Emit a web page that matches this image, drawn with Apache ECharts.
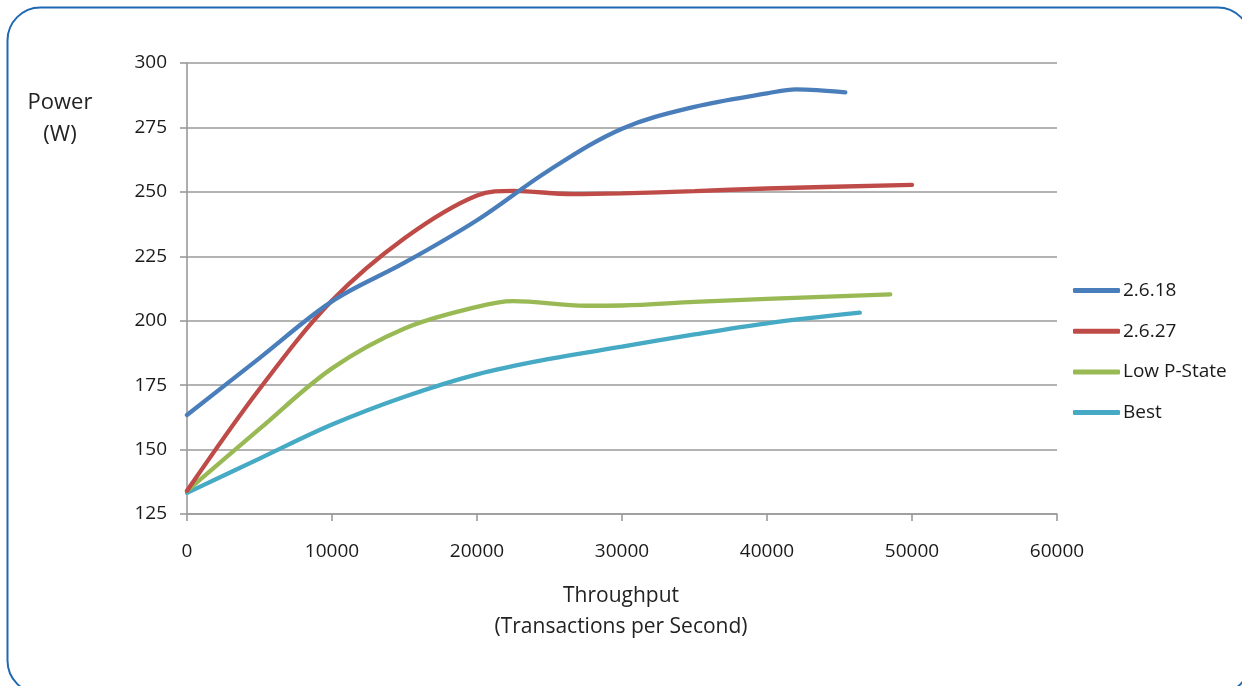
<!DOCTYPE html>
<html>
<head>
<meta charset="utf-8">
<title>Power vs Throughput</title>
<script src="https://cdn.jsdelivr.net/npm/echarts@6/dist/echarts.min.js"></script>
<style>
  html, body { margin: 0; padding: 0; background: #fff; }
  #chart { width: 1242px; height: 686px; }
</style>
</head>
<body>
<div id="chart"></div>
<script>
// Throughput (transactions per second) and power (W) per kernel configuration
const seriesNames = ['2.6.18', '2.6.27', 'Low P-State', 'Best'];

const tps2618 = [0, 5000, 10000, 15000, 20000, 25000, 30000, 35000, 40000, 42000, 45400];
const pow2618 = [163.4, 185.5, 207.5, 222.5, 239, 258.5, 274.5, 283, 288.2, 289.8, 288.6];

const tps2627 = [0, 5000, 10000, 15000, 20000, 22500, 26600, 30000, 35000, 40000, 50000];
const pow2627 = [134, 173.5, 207.8, 232, 248.6, 250.4, 249.1, 249.4, 250.3, 251.3, 252.7];

const tpsLowP = [0, 5000, 10000, 15000, 20000, 22500, 27500, 30000, 35000, 40000, 48500];
const powLowP = [134, 158, 181.5, 197, 205.4, 207.6, 205.8, 205.9, 207.3, 208.5, 210.2];

const tpsBest = [0, 5000, 10000, 15000, 20000, 25000, 30000, 35000, 40000, 46400];
const powBest = [133.2, 146.5, 159.7, 170.5, 179.2, 185.2, 189.9, 194.7, 199, 203.1];

const xTicks = { min: 0, max: 60000, step: 10000 };
const yTicks = { min: 125, max: 300, step: 25 };

const palette = ['#4a7ebb', '#be4b48', '#98b954', '#46aac5'];

function pairs(xs, ys) {
  return xs.map((x, i) => [x, ys[i]]);
}

const lineData = [
  pairs(tps2618, pow2618),
  pairs(tps2627, pow2627),
  pairs(tpsLowP, powLowP),
  pairs(tpsBest, powBest)
];

const font = '"Open Sans", "DejaVu Sans", sans-serif';
const gridColor = '#9a9a9a';
const textColor = '#1a1a1a';

const chart = echarts.init(document.getElementById('chart'), null, { renderer: 'canvas' });

chart.setOption({
  animation: false,
  backgroundColor: '#ffffff',
  color: palette,
  grid: { left: 187, top: 63, width: 870, height: 451, containLabel: false },
  xAxis: {
    type: 'value',
    min: xTicks.min,
    max: xTicks.max,
    interval: xTicks.step,
    axisLine: { show: true, lineStyle: { color: gridColor, width: 1.6 } },
    axisTick: { show: true, length: 7, lineStyle: { color: gridColor, width: 1.6 } },
    axisLabel: {
      margin: 28,
      color: textColor,
      fontFamily: font,
      fontSize: 19,
      formatter: (v) => String(v)
    },
    splitLine: { show: false }
  },
  yAxis: {
    type: 'value',
    min: yTicks.min,
    max: yTicks.max,
    interval: yTicks.step,
    axisLine: { show: true, lineStyle: { color: gridColor, width: 1.6 } },
    axisTick: { show: true, length: 7, lineStyle: { color: gridColor, width: 1.6 } },
    axisLabel: { margin: 20, color: textColor, fontFamily: font, fontSize: 19 },
    splitLine: { show: true, lineStyle: { color: gridColor, width: 1.6 } }
  },
  legend: {
    orient: 'vertical',
    left: 1073,
    top: 281,
    padding: 0,
    icon: 'roundRect',
    itemWidth: 47,
    itemHeight: 5,
    itemGap: 21.7,
    textStyle: { color: textColor, fontFamily: font, fontSize: 19, padding: [0, 0, 0, -2] },
    data: seriesNames
  },
  graphic: [
    {
      type: 'rect',
      silent: true,
      shape: { x: 7.5, y: 7.5, width: 1243, height: 686, r: 33 },
      style: { fill: 'none', stroke: '#1f68b2', lineWidth: 2 }
    },
    {
      type: 'text',
      x: 60,
      y: 87,
      style: {
        text: 'Power\n(W)',
        fill: '#222',
        font: '22px ' + font,
        textAlign: 'center',
        textVerticalAlign: 'top',
        lineHeight: 32
      }
    },
    {
      type: 'text',
      x: 621,
      y: 580.5,
      style: {
        text: 'Throughput\n(Transactions per Second)',
        fill: '#222',
        font: '21px ' + font,
        textAlign: 'center',
        textVerticalAlign: 'top',
        lineHeight: 31
      }
    }
  ],
  series: seriesNames.map((name, i) => ({
    name: name,
    type: 'line',
    data: lineData[i],
    smooth: 0.35,
    showSymbol: false,
    symbol: 'none',
    lineStyle: { width: 4.3, color: palette[i], cap: 'round' },
    itemStyle: { color: palette[i] },
    z: 3 + (3 - i)
  }))
});
</script>
</body>
</html>
